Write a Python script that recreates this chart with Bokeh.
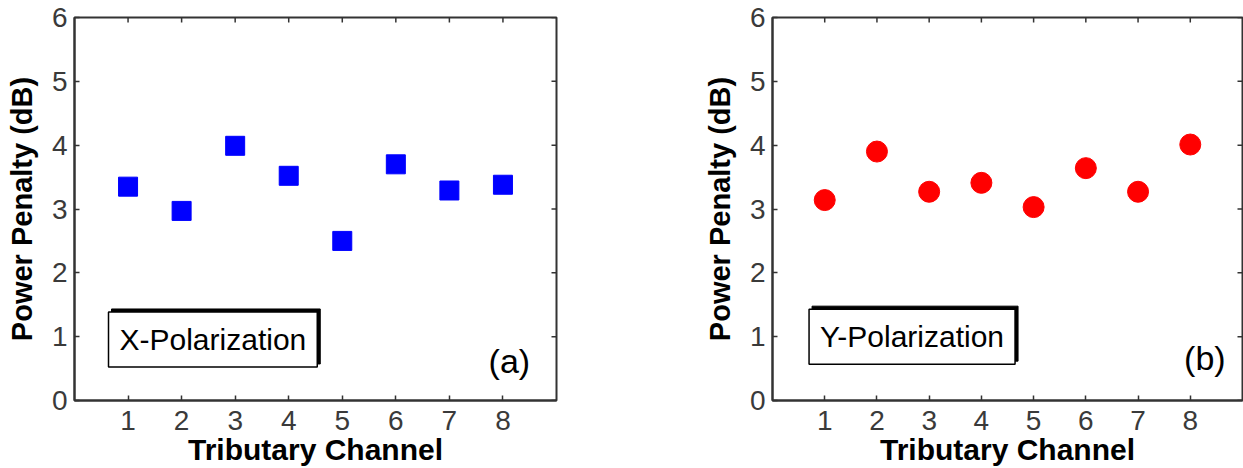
import math
from bokeh.plotting import figure
from bokeh.layouts import row
from bokeh.models import FixedTicker, Range1d, Label
from bokeh.embed import file_html
from bokeh.resources import INLINE

# ---- data ----
channels = [1, 2, 3, 4, 5, 6, 7, 8]
x_pol_penalty = [3.35, 2.97, 3.99, 3.52, 2.50, 3.70, 3.29, 3.38]
y_pol_penalty = [3.14, 3.90, 3.27, 3.41, 3.03, 3.64, 3.27, 4.01]
x_ticks = [1, 2, 3, 4, 5, 6, 7, 8]
y_ticks = [0, 1, 2, 3, 4, 5, 6]
x_limits = [0, 9]
y_limits = [0, 6]
x_title = "Tributary Channel"
y_title = "Power Penalty (dB)"
legend_texts = ["X-Polarization", "Y-Polarization"]
panel_tags = ["(a)", "(b)"]

FONT = "Liberation Sans"
AXIS_COL = "#333333"
TICK_LBL_COL = "#3a3a3a"
FIG_H = 468


def make_panel(width, border_left, border_right, values, marker, color, msize,
               legend, leg_xy, tag, tag_xy):
    p = figure(width=width, height=FIG_H,
               x_range=Range1d(*x_limits), y_range=Range1d(*y_limits),
               output_backend="svg", toolbar_location=None,
               min_border_left=border_left, min_border_right=border_right,
               min_border_top=17, min_border_bottom=68,
               background_fill_color="white", border_fill_color="white")
    p.grid.visible = False
    p.outline_line_color = AXIS_COL
    p.outline_line_width = 2

    xa = p.xaxis[0]
    ya = p.yaxis[0]
    xa.ticker = FixedTicker(ticks=x_ticks)
    ya.ticker = FixedTicker(ticks=y_ticks)
    for ax in (xa, ya):
        ax.axis_line_color = AXIS_COL
        ax.axis_line_width = 2
        ax.major_tick_in = 5
        ax.major_tick_out = 0
        ax.major_tick_line_color = AXIS_COL
        ax.major_tick_line_width = 1.5
        ax.minor_tick_line_color = None
        ax.major_label_text_font = FONT
        ax.major_label_text_font_size = "28px"
        ax.major_label_text_color = TICK_LBL_COL
        ax.axis_label_text_font = FONT
        ax.axis_label_text_font_style = "bold"
        ax.axis_label_text_color = "black"
    xa.axis_label_text_font_size = "30px"
    ya.axis_label_text_font_size = "29px"
    xa.axis_label = x_title
    ya.axis_label = y_title
    xa.major_label_standoff = 10
    ya.major_label_standoff = 7
    xa.axis_label_standoff = 0
    ya.axis_label_standoff = 11

    # inward tick marks on the top and right edges of the box
    n_x = len(x_ticks)
    n_y = len(y_ticks)
    p.scatter(x_ticks, [y_limits[1]] * n_x, marker="dash", angle=math.pi / 2,
              size=10, line_color=AXIS_COL, line_width=1.5)
    p.scatter([x_limits[1]] * n_y, y_ticks, marker="dash",
              size=10, line_color=AXIS_COL, line_width=1.5)

    # data
    p.scatter(channels, values, marker=marker, size=msize,
              fill_color=color, line_color=color)

    # legend-like text box with shadow
    lx, ly = leg_xy
    p.add_layout(Label(x=lx, y=ly, text=legend, x_offset=3, y_offset=3,
                       text_align="left", text_baseline="middle",
                       text_font=FONT, text_font_size="30px", text_color="black",
                       background_fill_color="black", border_line_color="black",
                       padding=11))
    p.add_layout(Label(x=lx, y=ly, text=legend,
                       text_align="left", text_baseline="middle",
                       text_font=FONT, text_font_size="30px", text_color="black",
                       background_fill_color="white", border_line_color="black",
                       border_line_width=1.5, padding=11))

    tx, ty = tag_xy
    p.add_layout(Label(x=tx, y=ty, text=tag,
                       text_align="center", text_baseline="middle",
                       text_font=FONT, text_font_size="34px", text_color="black"))
    return p


left = make_panel(700, 74, 144, x_pol_penalty, "square", "#0000ff", 19,
                  legend_texts[0], (0.635, 0.956), panel_tags[0], (8.12, 0.62))
right = make_panel(543, 66, 1, y_pol_penalty, "circle", "#ff0000", 21,
                   legend_texts[1], (0.70, 1.00), panel_tags[1], (8.28, 0.66))

layout = row(left, right)
open("out.html", "w").write(file_html(layout, INLINE))
